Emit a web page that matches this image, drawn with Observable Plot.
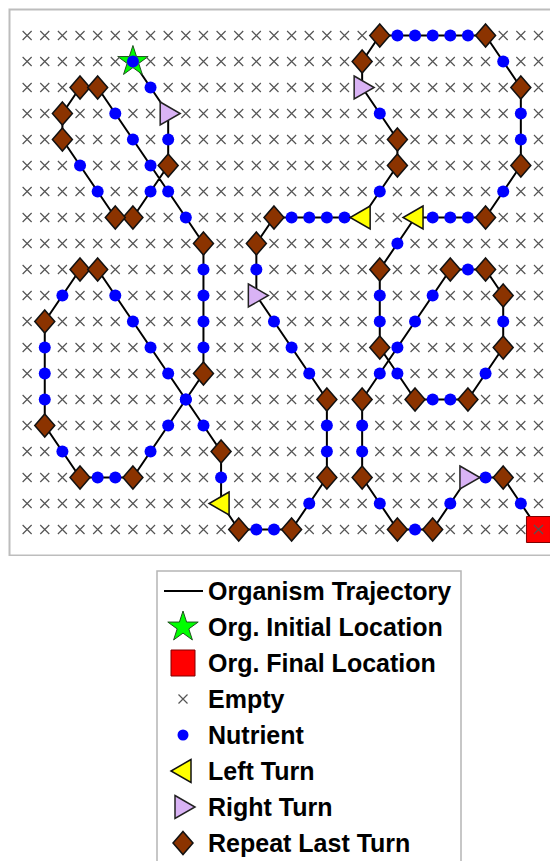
<!DOCTYPE html>
<html><head><meta charset="utf-8">
<script src="https://cdn.jsdelivr.net/npm/d3@7"></script>
<script src="https://cdn.jsdelivr.net/npm/@observablehq/plot@0.6"></script>
<style>
body{margin:0;background:#fff;font-family:"Liberation Sans",Arial,sans-serif;}
#wrap{position:relative;width:550px;height:861px;overflow:hidden;background:#fff;}
#chart{position:absolute;left:0;top:0;}
#legend{position:absolute;left:156px;top:570px;}
</style></head><body><div id="wrap"><div id="chart"></div><div id="legend"></div></div>
<script>
// Grid size
const nCols = 30, nRows = 20;
// Trajectory, step by step (column, row from top) and the marker of each step
// S = initial (nutrient), N = nutrient, L = left turn, R = right turn, D = repeat last turn, F = final (empty)
const stepCol = [6,7,8,8,8,7,6,5,4,3, 2,2,3,4,5,6,7,8,9,10, 10,10,10,10,10,9,8,7,6,5,
  4,3,2,1,1,1,1,1,2,3, 4,5,6,7,8,9,10,11,11,11, 12,13,14,15,16,17,17,17,17,16,
  15,14,13,13,13,14,15,16,17,18, 19,20,21,21,20,19,19,20,21,22, 23,24,25,26,27,28,28,28,28,27,
  26,25,24,23,22,21,20,20,20,20, 21,22,23,24,25,26,27,27,27,26, 25,24,23,22,21,20,19,19,19,19,
  20,21,22,23,24,25,26,27,28,29];
const stepRow = [1,2,3,4,5,6,7,7,6,5, 4,3,2,2,3,4,5,6,7,8, 9,10,11,12,13,14,15,16,17,17,
  17,17,16,15,14,13,12,11,10,9, 9,10,11,12,13,14,15,16,17,18, 19,19,19,19,18,17,16,15,14,13,
  12,11,10,9,8,7,7,7,7,7, 7,6,5,4,3,2,1,0,0,0, 0,0,0,0,1,2,3,4,5,6,
  7,7,7,7,7,8,9,10,11,12, 13,14,14,14,14,13,12,11,10,9, 9,9,10,11,12,13,14,15,16,17,
  18,19,19,19,18,17,17,17,18,19];
const stepKind = ("SNRNDNDDNN" + "DDDDNNNNND" + "NNNNDNNNDN" + "NDNDNNNDND" + "DNNNNNNDNL" +
  "DNNDNDNNDN" + "NNRNDDNNNN" + "LNDDNRDDNN" + "NNNDNDNNDN" + "DNNNLNDNND" +
  "NDNNDNDNDD" + "NDNNNNDNND" + "NDNDNRNDNF").split("");
// Legend
const legendLabels = ["Organism Trajectory","Org. Initial Location","Org. Final Location","Empty","Nutrient","Left Turn","Right Turn","Repeat Last Turn"];
const legendKinds = ["line","S","F","E","N","L","R","D"];

// marker shapes
const poly = pts => ({draw(ctx){ctx.moveTo(pts[0][0],pts[0][1]);for(let i=1;i<pts.length;i++)ctx.lineTo(pts[i][0],pts[i][1]);ctx.closePath();}});
const starPts = d3.range(10).map(k=>{const a=(-90+36*k)*Math.PI/180, rr = k%2 ? 16*0.382 : 16; return [rr*Math.cos(a), rr*Math.sin(a)];});
const shapes = {
  S: poly(starPts),
  F: poly([[-12,-13],[12,-13],[12,13],[-12,13]]),
  E: {draw(ctx){ctx.moveTo(-4.5,-4.5);ctx.lineTo(4.5,4.5);ctx.moveTo(-4.5,4.5);ctx.lineTo(4.5,-4.5);}},
  L: poly([[8,-11.5],[-12,0],[8,11.5]]),
  R: poly([[-8,-11.5],[12,0],[-8,11.5]]),
  D: poly([[0,-11.5],[10,0],[0,11.5],[-10,0]])
};
const styles = {
  S: {fill:"#00ff00", stroke:"#205020", strokeWidth:1},
  F: {fill:"#ff0000", stroke:"#800000", strokeWidth:1},
  E: {fill:"none", stroke:"#555", strokeWidth:1.2},
  N: {fill:"#0000ff", stroke:"none"},
  L: {fill:"#ffff00", stroke:"#111", strokeWidth:1.5},
  R: {fill:"#d9b3f5", stroke:"#222", strokeWidth:1.5},
  D: {fill:"#8b3300", stroke:"#111", strokeWidth:1.5}
};

const steps = stepCol.map((c,i)=>({col:c, row:stepRow[i], kind:stepKind[i]}));
const occupied = new Set(steps.filter(d=>d.kind!=="F").map(d=>d.col+","+d.row));
const empty = d3.cross(d3.range(nCols), d3.range(nRows)).map(([c,r])=>({col:c,row:r})).filter(d=>!occupied.has(d.col+","+d.row));

const xy = {x:"col", y:"row"};
const chart = Plot.plot({
  width: 550, height: 556,
  marginLeft: 9, marginRight: -5.6, marginTop: 9, marginBottom: 1,
  x: {domain: [-1, nCols], axis: null},
  y: {domain: [-1, nRows], reverse: true, axis: null},
  marks: [
    Plot.frame({stroke: "#bdbdbd", strokeWidth: 2}),
    Plot.line(steps, {...xy, stroke: "black", strokeWidth: 2}),
    Plot.dot(steps.filter(d=>d.kind==="S"), {...xy, symbol: shapes.S, ...styles.S}),
    Plot.dot(steps.filter(d=>d.kind==="F"), {...xy, symbol: shapes.F, ...styles.F}),
    Plot.dot(empty, {...xy, symbol: shapes.E, ...styles.E}),
    Plot.dot(steps.filter(d=>d.kind==="N"||d.kind==="S"), {...xy, r: 6, ...styles.N}),
    Plot.dot(steps.filter(d=>d.kind==="L"), {...xy, symbol: shapes.L, ...styles.L}),
    Plot.dot(steps.filter(d=>d.kind==="R"), {...xy, symbol: shapes.R, ...styles.R}),
    Plot.dot(steps.filter(d=>d.kind==="D"), {...xy, symbol: shapes.D, ...styles.D})
  ]
});
document.getElementById("chart").appendChild(chart);

// legend
const lg = d3.select("#legend").append("svg").attr("width", 308).attr("height", 300);
lg.append("rect").attr("x",1).attr("y",1).attr("width",304).attr("height",340)
  .attr("fill","#fff").attr("stroke","#b5b5b5").attr("stroke-width",1.5);
legendLabels.forEach((lab,i)=>{
  const cy = 21 + 36*i, cx = 27, k = legendKinds[i];
  const g = lg.append("g");
  if (k === "line") {
    g.append("line").attr("x1",8).attr("x2",47).attr("y1",cy).attr("y2",cy).attr("stroke","black").attr("stroke-width",2);
  } else if (k === "N") {
    g.append("circle").attr("cx",cx).attr("cy",cy).attr("r",5.5).attr("fill",styles.N.fill);
  } else {
    const p = d3.path();
    shapes[k].draw(p);
    const st = styles[k];
    g.append("path").attr("d", p.toString()).attr("transform",`translate(${cx},${cy})`)
      .attr("fill", st.fill).attr("stroke", st.stroke).attr("stroke-width", st.strokeWidth);
  }
  lg.append("text").attr("x",52).attr("y",cy).attr("dy","0.35em")
    .attr("font-family","'Liberation Sans', Arial, sans-serif").attr("font-weight","bold")
    .attr("font-size","25px").attr("fill","#000").text(lab);
});
</script>
</body></html>
